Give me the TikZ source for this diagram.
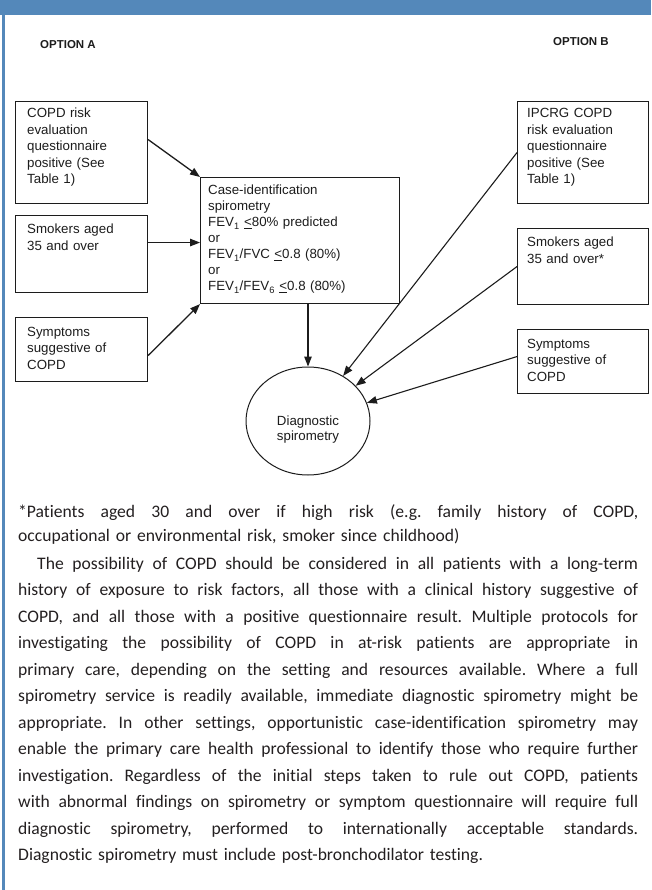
\documentclass[tikz,border=0pt]{standalone}
\usepackage{fontspec}
\setmainfont{Liberation Sans}
\newfontfamily\bodyfont[Ligatures=NoCommon]{Carlito}
\usetikzlibrary{arrows.meta,shapes.geometric}
\definecolor{hdrblue}{RGB}{84,136,186}
\definecolor{ink}{RGB}{28,28,28}
\definecolor{bodyink}{RGB}{35,31,32}
\newcommand\jl[1]{{\spaceskip=\fontdimen2\font plus 1fil\relax\xspaceskip=\spaceskip\hbox to 620pt{#1}}}
\newcommand\ulless{\underline{<}}
\begin{document}
\begin{tikzpicture}[x=1pt,y=1pt,
  boxst/.style={draw=ink, line width=1.1pt, inner sep=0, anchor=north west},
  txt/.style={anchor=base west, inner sep=0, align=left, text width=#1,
     font=\fontsize{13.3}{16.5}\selectfont, text=ink},
  opt/.style={inner sep=0, font=\fontsize{11.5}{13}\selectfont\bfseries, text=ink},
  arr/.style={draw=ink, line width=1.3pt, -{Triangle[length=10pt,width=7.5pt]}},
  arrb/.style={draw=ink, line width=1.1pt, -{Triangle[length=10pt,width=7.5pt]}},
  bodytxt/.style={anchor=base west, inner sep=0, text width=620pt, text=bodyink,
     font=\bodyfont\frenchspacing\fontsize{17.6}{#1}\selectfont}
]
\useasboundingbox (0,0) rectangle (651,-890);
\fill[hdrblue] (0,0) rectangle (651,-15);
\fill[hdrblue] (2,-15) rectangle (5,-890);

\node[opt, anchor=base west] (oa) at (40,-49) {OPTION A};
\node[opt, anchor=base west] (ob) at (553,-46) {OPTION B};

% left boxes
\node[boxst, minimum width=132pt, minimum height=102pt] (b1) at (15,-101) {};
\node[boxst, minimum width=132pt, minimum height=77pt] (b2) at (15,-215) {};
\node[boxst, minimum width=132pt, minimum height=64pt] (b3) at (15,-317) {};
% central box
\node[boxst, minimum width=199pt, minimum height=126pt] (cb) at (200,-177) {};
% right boxes
\node[boxst, minimum width=131pt, minimum height=102pt] (r1) at (517,-101) {};
\node[boxst, minimum width=131pt, minimum height=76pt] (r2) at (517,-228) {};
\node[boxst, minimum width=131pt, minimum height=64pt] (r3) at (517,-329) {};
% ellipse
\node[draw=ink, line width=1pt, ellipse, minimum width=124pt, minimum height=108pt, inner sep=0] (el) at (308,-421) {};

% texts
\node[txt=115pt] (t1) at (27,-118) {COPD risk\\evaluation\\questionnaire\\positive (See\\Table 1)};
\node[txt=115pt] (t2) at (27,-234) {Smokers aged\\35 and over};
\node[txt=115pt] (t3) at (27,-336) {Symptoms\\suggestive of\\COPD};
\node[txt=185pt, font=\fontsize{13.3}{16}\selectfont] (tc) at (208,-195) {Case-identification\\spirometry\\FEV\textsubscript{1} \ulless80\% predicted\\or\\FEV\textsubscript{1}/FVC \ulless0.8 (80\%)\\or\\FEV\textsubscript{1}/FEV\textsubscript{6} \ulless0.8 (80\%)};
\node[txt=118pt] (s1) at (527,-118) {IPCRG COPD\\risk evaluation\\questionnaire\\positive (See\\Table 1)};
\node[txt=118pt] (s2) at (527,-247) {Smokers aged\\35 and over*};
\node[txt=118pt] (s3) at (527,-348) {Symptoms\\suggestive of\\COPD};
\node[anchor=base, inner sep=0, align=center, text width=110pt, font=\fontsize{13.3}{15.5}\selectfont, text=ink] (te) at (308,-425) {Diagnostic\\spirometry};

% arrows
\draw[arr] ([yshift=13pt]b1.east) -- (cb.north west);
\draw[arr] ([yshift=11.5pt]b2.east) -- ([yshift=11.5pt]b2.east -| cb.west);
\draw[arr] ([yshift=-6pt]b3.east) -- (cb.south west);
\draw[arrb] (el.north |- cb.south) -- (el.north);
\draw[arrb] (r1.west) -- (el);
\draw[arrb] (r2.west) -- (el);
\draw[arrb] ([yshift=5pt]r3.west) -- (el);

% footnote
\node[bodytxt=24.5] (fn) at (18,-517) {%
\jl{*Patients aged 30 and over if high risk (e.g. family history of COPD,}
\hbox{occupational or environmental risk, smoker since childhood)}};

% paragraph
\node[bodytxt=26.5] (par) at (18,-569) {%
\jl{\hskip19pt The possibility of COPD should be considered in all patients with a long-term}
\jl{history of exposure to risk factors, all those with a clinical history suggestive of}
\jl{COPD, and all those with a positive questionnaire result. Multiple protocols for}
\jl{investigating the possibility of COPD in at-risk patients are appropriate in}
\jl{primary care, depending on the setting and resources available. Where a full}
\jl{spirometry service is readily available, immediate diagnostic spirometry might be}
\jl{appropriate. In other settings, opportunistic case-identification spirometry may}
\jl{enable the primary care health professional to identify those who require further}
\jl{investigation. Regardless of the initial steps taken to rule out COPD, patients}
\jl{with abnormal findings on spirometry or symptom questionnaire will require full}
\jl{diagnostic spirometry, performed to internationally acceptable standards.}
\hbox{Diagnostic spirometry must include post-bronchodilator testing.}};
\end{tikzpicture}
\end{document}
